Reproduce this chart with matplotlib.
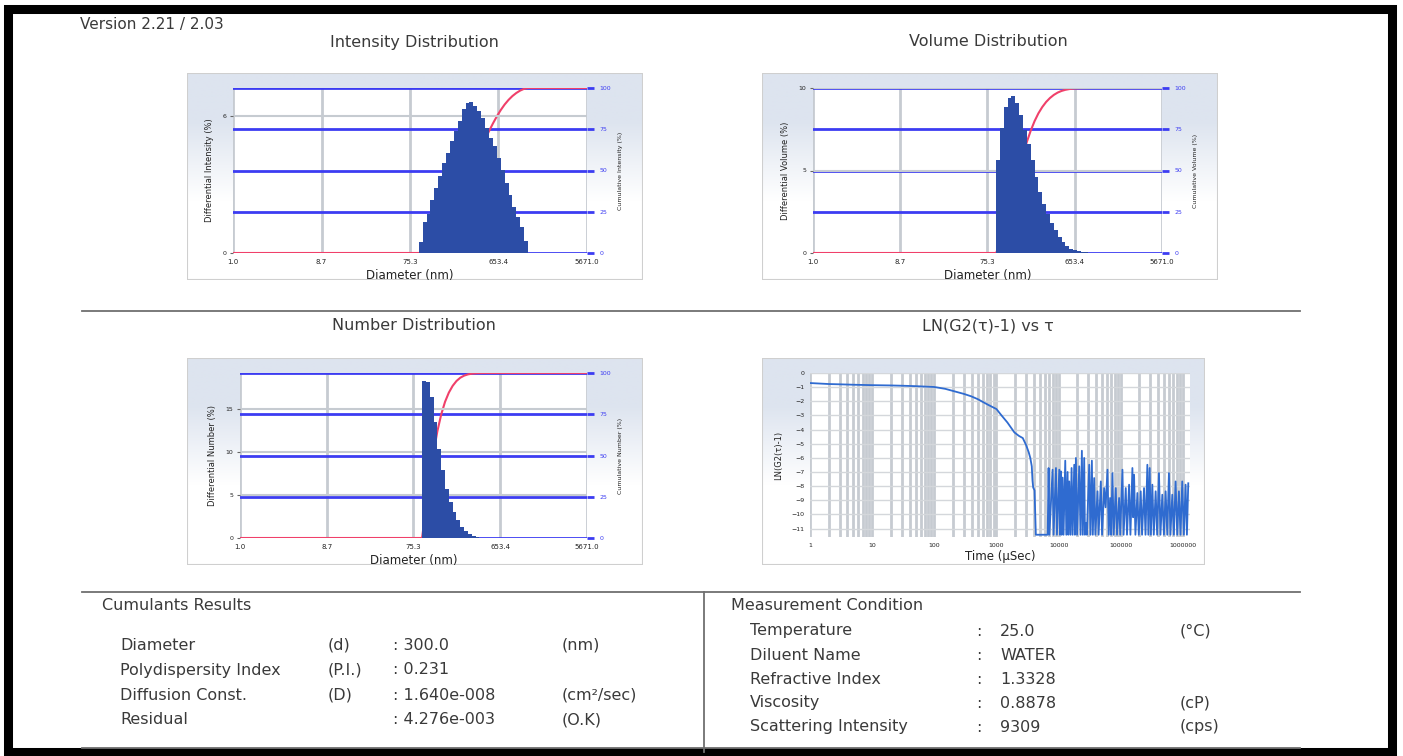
import numpy as np
import matplotlib.pyplot as plt
import matplotlib.ticker as ticker
from matplotlib.colors import LinearSegmentedColormap
from matplotlib.lines import Line2D
from matplotlib.patches import Rectangle

W, H = 1403, 756

# ---------------- data ----------------
# shared diameter bin grid (nm), left edge of the first bin to right edge of the last
bin_edges_nm = [93.2, 102.5, 112.7, 124.0, 136.4, 150.1, 165.1, 181.6, 199.7, 219.7,
                241.7, 265.8, 292.4, 321.6, 353.8, 389.2, 428.1, 470.9, 518.0, 569.8,
                626.8, 689.5, 758.4, 834.3, 917.7, 1009.5, 1110.4, 1221.5, 1343.6]

intensity_pct = [0.49, 1.37, 1.70, 2.33, 2.84, 3.38, 3.94, 4.38, 4.90, 5.34, 5.82, 6.32,
                 6.59, 6.63, 6.44, 6.22, 5.93, 5.48, 5.05, 4.68, 4.16, 3.65, 3.06, 2.54,
                 2.03, 1.59, 1.15, 0.53]
volume_pct = [5.64, 7.57, 8.84, 9.39, 9.49, 9.09, 8.38, 7.46, 6.61, 5.64, 4.62, 3.71,
              3.00, 2.35, 1.83, 1.38, 0.97, 0.67, 0.43, 0.26, 0.16, 0.10, 0.06, 0.04, 0.02]
number_pct = [18.2, 18.1, 16.4, 13.5, 10.4, 7.87, 5.74, 4.19, 3.02, 2.05, 1.28, 0.78,
              0.43, 0.23, 0.12, 0.05, 0.02]

diam_ticks = [1.0, 8.7, 75.3, 653.4, 5671.0]
diam_tick_labels = ["1.0", "8.7", "75.3", "653.4", "5671.0"]
cum_ticks = [0, 25, 50, 75, 100]

# correlation function LN(G2(t)-1) vs t (usec)
corr_t = [1, 2, 3, 5, 10, 20, 30, 50, 100, 150, 212, 300, 393, 500, 727, 1000, 1180,
          1500, 1940, 2300, 2650, 3000, 3300, 3500, 3700, 3800, 3900, 4100, 4300, 6670,
          6900, 7100, 8000, 8300, 9060, 9400, 10250, 10500, 10890, 11200, 11590, 12000,
          12790, 13300, 13940, 14300, 14830, 15500, 16170, 16800, 17840, 18300, 18980,
          19800, 21460, 22500, 23680, 24500, 25810, 26500, 27470, 28500, 31070, 32500,
          34290, 35500, 37360, 39000, 42250, 44000, 47790, 50000, 54050, 57000, 61130,
          64000, 67440, 70000, 73510, 77000, 83140, 87000, 94040, 98000, 106400, 111000,
          120300, 126000, 136100, 143000, 153900, 158000, 163700, 172000, 185100, 195000,
          209400, 220000, 236800, 250000, 267800, 278000, 291900, 305000, 322000, 340000,
          364100, 385000, 411900, 435000, 465900, 495000, 526900, 560000, 596000, 630000,
          674100, 715000, 762400, 810000, 862300, 915000, 975300, 1035000, 1103000,
          1160000, 1219000]
corr_ln = [-0.71, -0.78, -0.80, -0.83, -0.86, -0.88, -0.90, -0.93, -0.99, -1.12, -1.30,
           -1.48, -1.65, -1.85, -2.24, -2.55, -2.95, -3.50, -4.20, -4.45, -4.60, -5.10,
           -5.60, -6.00, -6.60, -7.60, -8.10, -8.30, -11.44, -11.44,
           -6.72, -11.44, -6.84, -11.44, -6.72, -11.44, -6.84, -11.44, -6.96, -11.44,
           -7.40, -11.44, -6.20, -11.44, -7.00, -11.44, -7.67, -11.44, -6.72, -11.44,
           -6.49, -11.44, -6.01, -11.44, -6.60, -11.44, -5.50, -11.44, -6.01, -11.44,
           -10.61, -11.44, -6.49, -11.44, -6.20, -11.44, -7.43, -11.44, -8.37, -11.44,
           -7.67, -11.44, -8.14, -9.50, -6.84, -11.44, -8.84, -11.44, -7.08, -11.44,
           -8.14, -11.44, -8.84, -11.44, -6.84, -11.44, -8.14, -11.44, -7.90, -11.44,
           -6.72, -10.20, -7.19, -11.44, -8.49, -11.44, -8.37, -11.44, -8.14, -11.44,
           -6.49, -11.44, -6.72, -11.44, -7.90, -11.44, -8.37, -11.44, -7.08, -11.44,
           -8.61, -11.44, -8.37, -11.44, -7.08, -11.44, -8.61, -11.44, -7.67, -11.44,
           -8.37, -11.44, -7.67, -11.44, -7.90, -11.44, -7.80]
corr_ticks = [1, 10, 100, 1000, 10000, 100000, 1000000]
corr_yticks = list(range(0, -12, -1))

cumulants_rows = [("Diameter", "(d)", ": 300.0", "(nm)"),
                  ("Polydispersity Index", "(P.I.)", ": 0.231", ""),
                  ("Diffusion Const.", "(D)", ": 1.640e-008", "(cm\u00b2/sec)"),
                  ("Residual", "", ": 4.276e-003", "(O.K)")]
condition_rows = [("Temperature", "25.0", "(\u00b0C)"),
                  ("Diluent Name", "WATER", ""),
                  ("Refractive Index", "1.3328", ""),
                  ("Viscosity", "0.8878", "(cP)"),
                  ("Scattering Intensity", "9309", "(cps)")]

# ---------------- style ----------------
TEXT = "#3a3a3a"
BLUE = "#3c3cf2"
GRIDGRAY = "#c6cbd1"
BAR = "#2c4da6"
RED = "#f0406a"
CURVE = "#2f6bd0"
NARROW = ["Liberation Sans Narrow", "DejaVu Sans"]

fig = plt.figure(figsize=(W / 100, H / 100), dpi=100)
fig.patch.set_facecolor("white")


def fx(x):
    return x / W


def fy(y):
    return 1 - y / H


def rect(l, t, r, b):
    return [fx(l), fy(b), fx(r) - fx(l), fy(t) - fy(b)]


grad_cmap = LinearSegmentedColormap.from_list("panel", ["#ffffff", "#dde4ef"])


def panel(l, t, r, b):
    bg = fig.add_axes(rect(l, t, r, b), zorder=-5)
    g = np.clip(np.linspace(1.6, -1.0, 200), 0, 1)[:, None]
    bg.imshow(g, aspect="auto", cmap=grad_cmap, vmin=0, vmax=1,
              extent=[0, 1, 0, 1], interpolation="bilinear")
    bg.add_patch(Rectangle((0, 0), 1, 1, transform=bg.transAxes, fill=False,
                           edgecolor="#cfcfcf", lw=1.5))
    bg.set_axis_off()


def distribution(pos, values, left_ticks, left_max, left_label, right_label):
    ax = fig.add_axes(pos)
    axl = ax.twinx()

    # right axis: cumulative %, with the blue/grey grid and the red curve
    ax.set_facecolor("white")
    ax.set_xscale("log")
    ax.set_xlim(diam_ticks[0], diam_ticks[-1])
    ax.set_ylim(0, 100)
    ax.set_xticks(diam_ticks)
    ax.set_xticklabels(diam_tick_labels)
    ax.xaxis.set_minor_locator(ticker.NullLocator())
    ax.set_yticks(cum_ticks)
    ax.yaxis.tick_right()
    ax.yaxis.set_label_position("right")
    ax.tick_params(axis="y", colors=BLUE, labelsize=4.5, length=5, width=2,
                   pad=4, labelcolor=BLUE)
    ax.tick_params(axis="x", labelsize=5, length=0, pad=4, labelcolor="#222222")
    ax.grid(axis="x", color=GRIDGRAY, lw=2.0)
    ax.grid(axis="y", color=BLUE, lw=2.0)
    ax.set_axisbelow(True)
    for s in ax.spines.values():
        s.set_visible(False)
    ax.set_xlabel("Diameter (nm)", fontsize=8.5, color="#222222", labelpad=3)
    ax.set_ylabel(right_label, fontsize=4.5, color="#222222", labelpad=5,
                  family=NARROW)

    n = len(values)
    edges = np.array(bin_edges_nm[:n + 1])
    cum = np.cumsum(values) / np.sum(values) * 100
    cx = np.concatenate([[diam_ticks[0], edges[0]], edges[1:], [diam_ticks[-1]]])
    cy = np.concatenate([[0, 0], cum, [100]])
    ax.plot(cx, cy, color=RED, lw=1.5, zorder=3)

    # left axis: differential %, bars on top
    axl.set_ylim(0, left_max)
    axl.set_yticks(left_ticks)
    axl.yaxis.tick_left()
    axl.yaxis.set_label_position("left")
    axl.tick_params(axis="y", labelsize=4.5, length=2, colors="#666666",
                    labelcolor="#222222", pad=3)
    for s in axl.spines.values():
        s.set_visible(False)
    for v in left_ticks[1:]:
        axl.axhline(v, color=GRIDGRAY, lw=1.5, zorder=1)
    axl.stairs(values, edges, fill=True, color=BAR, zorder=4)
    axl.set_ylabel(left_label, fontsize=6, color="#222222", labelpad=6,
                   family=NARROW)
    return ax


# panels
panel(187, 73, 643, 280)
panel(762, 73, 1218, 280)
panel(187, 358, 643, 565)
panel(762, 358, 1205, 565)

distribution(rect(233, 88, 587, 253), intensity_pct, [0, 6], 6 / 0.8276,
             "Differential Intensity (%)", "Cumulative Intensity (%)")
distribution(rect(813, 88, 1162, 253), volume_pct, [0, 5, 10], 10,
             "Differential Volume (%)", "Cumulative Volume (%)")
distribution(rect(240, 373, 587, 538), number_pct, [0, 5, 10, 15], 165 / 43 * 5,
             "Differential Number (%)", "Cumulative Number (%)")

# correlation chart
axc = fig.add_axes(rect(810, 373, 1190, 537))
axc.set_facecolor("white")
axc.set_xscale("log")
axc.set_xlim(1, 1.3e6)
axc.set_ylim(-11.6, 0)
axc.set_xticks(corr_ticks)
axc.set_xticklabels([str(t) for t in corr_ticks])
axc.xaxis.set_minor_locator(ticker.LogLocator(base=10, subs=np.arange(2, 10)))
axc.xaxis.set_minor_formatter(ticker.NullFormatter())
axc.set_yticks(corr_yticks)
axc.grid(axis="x", which="both", color=GRIDGRAY, lw=2.0)
axc.grid(axis="y", color="#d4d7db", lw=1.0)
axc.set_axisbelow(True)
axc.tick_params(which="both", length=0)
axc.tick_params(axis="both", labelsize=4.5, labelcolor="#222222", pad=4)
for s in axc.spines.values():
    s.set_visible(False)
axc.plot(corr_t, corr_ln, color=CURVE, lw=1.3)
axc.set_xlabel("Time (\u00b5Sec)", fontsize=8.5, color="#222222", labelpad=2)
axc.set_ylabel("LN(G2(\u03c4)-1)", fontsize=6, color="#222222", labelpad=6,
               family=NARROW)

# ---------------- report text ----------------
fig.text(fx(80), fy(25), "Version 2.21 / 2.03", fontsize=11, color=TEXT, va="center")
fig.text(fx(414), fy(42), "Intensity Distribution", fontsize=11.5, color=TEXT,
         ha="center", va="center")
fig.text(fx(988), fy(42), "Volume Distribution", fontsize=11.5, color=TEXT,
         ha="center", va="center")
fig.text(fx(414), fy(326), "Number Distribution", fontsize=11.5, color=TEXT,
         ha="center", va="center")
fig.text(fx(988), fy(326), "LN(G2(\u03c4)-1) vs \u03c4", fontsize=11.5, color=TEXT,
         ha="center", va="center")

fig.text(fx(102), fy(605), "Cumulants Results", fontsize=11.5, color=TEXT, va="center")
for i, (name, sym, val, unit) in enumerate(cumulants_rows):
    y = fy(645 + 25 * i)
    fig.text(fx(120), y, name, fontsize=11.5, color=TEXT, va="center")
    fig.text(fx(328), y, sym, fontsize=11.5, color=TEXT, va="center")
    fig.text(fx(393), y, val, fontsize=11.5, color=TEXT, va="center")
    fig.text(fx(562), y, unit, fontsize=11.5, color=TEXT, va="center")

fig.text(fx(731), fy(605), "Measurement Condition", fontsize=11.5, color=TEXT,
         va="center")
for i, (name, val, unit) in enumerate(condition_rows):
    y = fy(631 + 24 * i)
    fig.text(fx(750), y, name, fontsize=11.5, color=TEXT, va="center")
    fig.text(fx(976), y, ":", fontsize=11.5, color=TEXT, va="center")
    fig.text(fx(1000), y, val, fontsize=11.5, color=TEXT, va="center")
    fig.text(fx(1180), y, unit, fontsize=11.5, color=TEXT, va="center")

# separators
for (x0, y0, x1, y1) in [(82, 311, 1300, 311), (82, 592, 1300, 592),
                         (82, 748, 1300, 748), (704, 592, 704, 752)]:
    fig.add_artist(Line2D([fx(x0), fx(x1)], [fy(y0), fy(y1)], color="#6f6f6f",
                          lw=1.3, transform=fig.transFigure))

# outer black frame
fig.add_artist(Rectangle((fx(8), fy(752)), fx(1392) - fx(8), fy(9) - fy(752),
                         transform=fig.transFigure, fill=False, edgecolor="black",
                         lw=6.5))

fig.savefig("out.png", dpi=100, facecolor="white")
plt.close(fig)
